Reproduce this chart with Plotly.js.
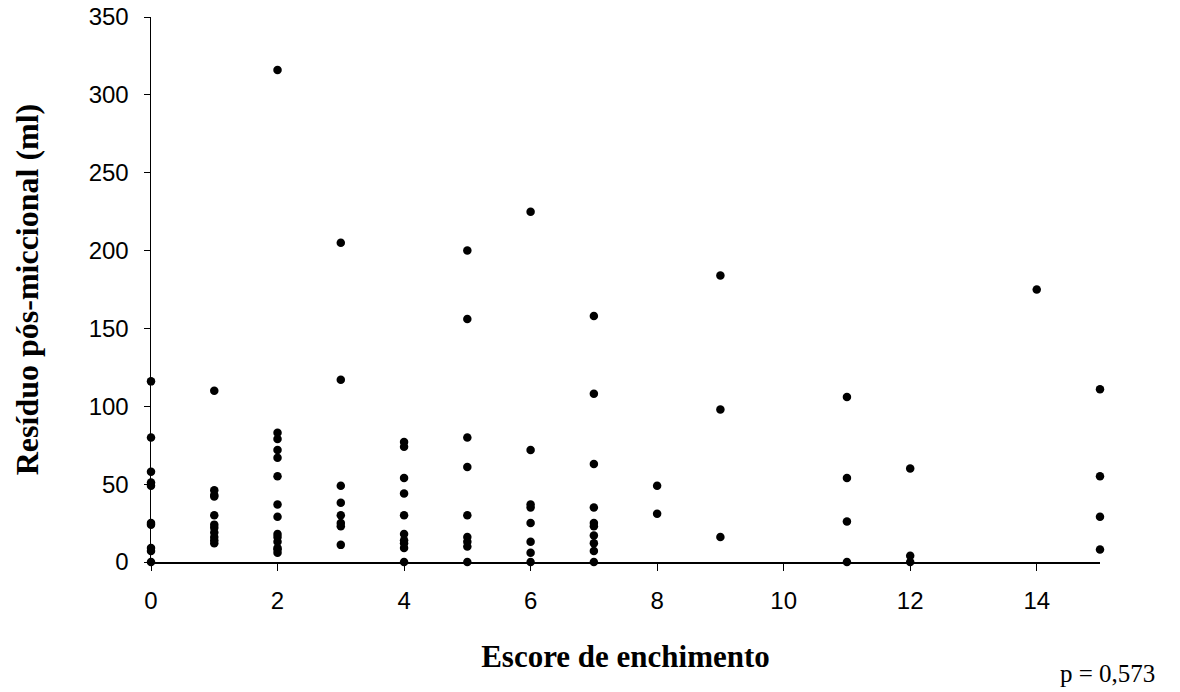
<!DOCTYPE html>
<html>
<head>
<meta charset="utf-8">
<script src="https://cdn.plot.ly/plotly-3.0.1.min.js"></script>
<style>html,body{margin:0;padding:0;background:#fff;}#chart{width:1180px;height:692px;}</style>
</head>
<body>
<div id="chart"></div>
<script>
// Escore de enchimento (x) and Resíduo pós-miccional in ml (y)
const escore = [
  0,0,0,0,0,0,0,0,0,0,
  1,1,1,1,1,1,1,1,1,1,1,
  2,2,2,2,2,2,2,2,2,2,2,2,2,2,
  3,3,3,3,3,3,3,3,
  4,4,4,4,4,4,4,4,4,4,
  5,5,5,5,5,5,5,5,5,
  6,6,6,6,6,6,6,6,
  7,7,7,7,7,7,7,7,7,7,
  8,8,
  9,9,9,
  11,11,11,11,
  12,12,12,
  14,
  15,15,15,15
];
const residuo = [
  116,80,58,51,49,25,24,9,7,0,
  110,46,43,42,30,24,22,19,16,14,12,
  316,83,79,72,67,55,37,29,18,16,13,9,8,6,
  205,117,49,38,30,25,23,11,
  77,74,54,44,30,18,14,12,9,0,
  200,156,80,61,30,16,13,10,0,
  225,72,37,35,25,13,6,0,
  158,108,63,35,25,23,17,12,7,0,
  49,31,
  184,98,16,
  106,54,26,0,
  60,4,0,
  175,
  111,55,29,8
];
const xTicks = [0,2,4,6,8,10,12,14];
const yTicks = [0,50,100,150,200,250,300,350];

const trace = {
  x: escore, y: residuo, type: 'scatter', mode: 'markers',
  marker: {color: '#000', size: 8.5},
  cliponaxis: false, hoverinfo: 'x+y'
};

const serif = 'Liberation Serif, Times New Roman, serif';
const sans = 'Liberation Sans, Arial, sans-serif';

const layout = {
  width: 1180, height: 692,
  margin: {l: 151, r: 80, t: 17, b: 130},
  paper_bgcolor: '#fff', plot_bgcolor: '#fff',
  showlegend: false,
  font: {family: sans, color: '#000', size: 24},
  xaxis: {
    range: [0, 15], tickvals: xTicks, ticktext: xTicks.map(String),
    showgrid: false, zeroline: false, showline: true, linecolor: '#000', linewidth: 1.5,
    ticks: 'outside', ticklen: 7, tickcolor: '#000', tickwidth: 1,
    ticklabelstandoff: 10,
    tickfont: {size: 24, family: sans},
    title: {text: 'Escore de enchimento', standoff: 32,
            font: {family: serif, size: 31, color: '#000', weight: 'bold'}}
  },
  yaxis: {
    range: [0, 350], tickvals: yTicks, ticktext: yTicks.map(String),
    showgrid: false, zeroline: false, showline: true, linecolor: '#000', linewidth: 1.5,
    ticks: 'outside', ticklen: 6, tickcolor: '#000', tickwidth: 1,
    ticklabelstandoff: 10,
    tickfont: {size: 24, family: sans},
    title: {text: 'Resíduo pós-miccional (ml)', standoff: 40,
            font: {family: serif, size: 32, color: '#000', weight: 'bold'}}
  },
  annotations: [{
    text: 'p = 0,573', xref: 'paper', yref: 'paper', x: 1.0074, y: -0.2055,
    xanchor: 'center', yanchor: 'middle', showarrow: false,
    font: {family: serif, size: 25, color: '#000'}
  }]
};

Plotly.newPlot('chart', [trace], layout, {displayModeBar: false, staticPlot: true});
</script>
</body>
</html>
